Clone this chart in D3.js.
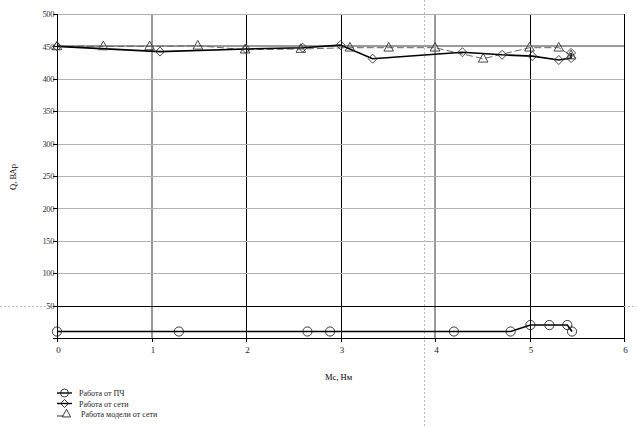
<!DOCTYPE html>
<html><head><meta charset="utf-8">
<script src="https://cdn.jsdelivr.net/npm/d3@7"></script>
<style>
html,body{margin:0;padding:0;background:#fff;}
svg{display:block;font-family:"Liberation Serif","DejaVu Serif",serif;}
</style></head>
<body>
<svg id="chart" width="637" height="428"></svg>
<script>
// ---- data ----
const seriesNames = ["Работа от ПЧ", "Работа от сети", "Работа модели от сети"];
const pchX = [0, 1.29, 2.65, 2.89, 4.2, 4.8, 5.01, 5.21, 5.4, 5.45];
const pchY = [10, 10, 10, 10, 10, 10, 20, 20, 20, 10];
const netX = [0, 1.09, 2.0, 2.6, 3.0, 3.34, 4.29, 4.71, 5.03, 5.31, 5.44, 5.44];
const netY = [450, 442, 446, 448, 452, 431, 441, 437, 435, 429, 432, 440];
const modX = [0, 0.49, 0.98, 1.49, 1.99, 2.58, 3.1, 3.51, 4.0, 4.51, 5.0, 5.31, 5.44];
const modY = [450, 450, 450, 451, 445, 446, 448, 448, 448, 431, 448, 448, 436];
const xTicks = [0, 1, 2, 3, 4, 5, 6];
const yTicks = [50, 100, 150, 200, 250, 300, 350, 400, 450, 500];
const xLabel = "Мс, Нм";
const yLabel = "Q, ВАр";
const cursor = [3.88, 50];

const svg = d3.select("#chart");
const x = d3.scaleLinear().domain([0, 6]).range([57, 624]);
const y = d3.scaleLinear().domain([0, 500]).range([338, 14]);
const px = v => Math.round(v) + 0.5;

// grid
const darkV = new Set([2, 3, 5, 6]);
svg.append("g").selectAll("line").data(xTicks.filter(d => d > 0)).join("line")
  .attr("x1", d => darkV.has(d) ? px(x(d)) : Math.round(x(d)))
  .attr("x2", d => darkV.has(d) ? px(x(d)) : Math.round(x(d)))
  .attr("y1", y(0)).attr("y2", y(500))
  .attr("stroke", d => darkV.has(d) ? "#000" : "#9a9a9a")
  .attr("stroke-width", d => darkV.has(d) ? 1 : 2);
svg.append("g").selectAll("line").data(yTicks).join("line")
  .attr("x1", x(0)).attr("x2", x(6))
  .attr("y1", d => d === 450 ? Math.round(y(d)) : px(y(d)))
  .attr("y2", d => d === 450 ? Math.round(y(d)) : px(y(d)))
  .attr("stroke", d => d === 450 ? "#9a9a9a" : (d === 50 ? "#000" : "#b0b0b0"))
  .attr("stroke-width", d => d === 450 ? 2 : 1);

// cursor crosshair
svg.append("line").attr("x1", px(x(cursor[0]))).attr("x2", px(x(cursor[0]))).attr("y1", 0).attr("y2", 428)
  .attr("stroke", "#bbb").attr("stroke-dasharray", "2,2");
svg.append("line").attr("x1", 0).attr("x2", x(0)).attr("y1", px(y(cursor[1]))).attr("y2", px(y(cursor[1])))
  .attr("stroke", "#bbb").attr("stroke-dasharray", "2,2");
svg.append("line").attr("x1", x(6)).attr("x2", 637).attr("y1", px(y(cursor[1]))).attr("y2", px(y(cursor[1])))
  .attr("stroke", "#bbb").attr("stroke-dasharray", "2,2");

// axes
const xAxis = d3.axisBottom(x).tickValues(xTicks).tickSize(4).tickFormat(d3.format("d"));
const gx = svg.append("g").attr("transform", `translate(0,${Math.round(y(0))})`).call(xAxis);
gx.attr("shape-rendering", "crispEdges");
gx.select(".domain").attr("stroke", "#000");
gx.selectAll("text").attr("font-size", 9).attr("font-family", "Liberation Serif").attr("fill", "#222").attr("dy", "0.9em").attr("dx", "1");
const yAxis = d3.axisLeft(y).tickValues(yTicks).tickSize(4).tickFormat(d3.format("d"));
const gy = svg.append("g").attr("transform", `translate(${Math.round(x(0))},0)`).call(yAxis);
gy.attr("shape-rendering", "crispEdges");
gy.select(".domain").attr("stroke", "#000");
gy.selectAll("text").attr("font-size", 8.5).attr("font-family", "Liberation Serif").attr("fill", "#333").attr("x", -3).attr("letter-spacing", "-0.4");
gy.selectAll(".tick line").attr("stroke", "#000");

// axis titles
svg.append("text").attr("x", 325).attr("y", 380).attr("font-size", 8.5).text(xLabel);
svg.append("text").attr("transform", "translate(16,177) rotate(-90)").attr("text-anchor", "middle")
  .attr("font-size", 8.5).text(yLabel);

// lines
const toPts = (xs, ys) => xs.map((v, i) => [v, ys[i]]);
const line = d3.line().x(d => x(d[0])).y(d => y(d[1]));
const pch = toPts(pchX, pchY), net = toPts(netX, netY), mod = toPts(modX, modY);

svg.append("path").attr("d", line(mod)).attr("fill", "none").attr("stroke", "#666")
  .attr("stroke-width", 1).attr("stroke-dasharray", "7,3");
svg.append("path").attr("d", line(net)).attr("fill", "none").attr("stroke", "#000").attr("stroke-width", 1.6);
svg.append("path").attr("d", line(pch)).attr("fill", "none").attr("stroke", "#000").attr("stroke-width", 1.6);

const diamondPath = (cx, cy, r) => `M${cx},${cy - r}L${cx + r},${cy}L${cx},${cy + r}L${cx - r},${cy}Z`;
const triPath = (cx, cy, r) => `M${cx},${cy - r * 1.1}L${cx + r},${cy + r * 0.7}L${cx - r},${cy + r * 0.7}Z`;

svg.append("g").selectAll("circle").data(pch).join("circle")
  .attr("cx", d => x(d[0])).attr("cy", d => y(d[1])).attr("r", 4.6)
  .attr("fill", "none").attr("stroke", "#222").attr("stroke-width", 0.9);
svg.append("g").selectAll("path").data(net).join("path")
  .attr("d", d => diamondPath(x(d[0]), y(d[1]), 4.5))
  .attr("fill", "none").attr("stroke", "#333").attr("stroke-width", 0.9);
svg.append("g").selectAll("path").data(mod).join("path")
  .attr("d", d => triPath(x(d[0]), y(d[1]), 4.8))
  .attr("fill", "none").attr("stroke", "#333").attr("stroke-width", 0.9);

// legend
const legY = [393, 403.5, 414];
const lg = svg.append("g");
lg.append("line").attr("x1", 57).attr("x2", 72).attr("y1", legY[0]).attr("y2", legY[0]).attr("stroke", "#000").attr("stroke-width", 1.4);
lg.append("circle").attr("cx", 64.5).attr("cy", legY[0]).attr("r", 4).attr("fill", "none").attr("stroke", "#222").attr("stroke-width", 0.9);
lg.append("line").attr("x1", 57).attr("x2", 72).attr("y1", legY[1]).attr("y2", legY[1]).attr("stroke", "#000").attr("stroke-width", 1.4);
lg.append("path").attr("d", diamondPath(64.5, legY[1], 4)).attr("fill", "none").attr("stroke", "#222").attr("stroke-width", 0.9);
lg.append("line").attr("x1", 57).attr("x2", 63).attr("y1", legY[2] + 2).attr("y2", legY[2] + 2).attr("stroke", "#333").attr("stroke-width", 1);
lg.append("path").attr("d", triPath(66.5, legY[2], 4.2)).attr("fill", "none").attr("stroke", "#222").attr("stroke-width", 0.9);
lg.selectAll("text").data(seriesNames).join("text")
  .attr("x", (d, i) => i === 2 ? 81 : 79).attr("y", (d, i) => legY[i] + 3)
  .attr("font-size", 8).attr("fill", "#222").text(d => d);
</script>
</body></html>
